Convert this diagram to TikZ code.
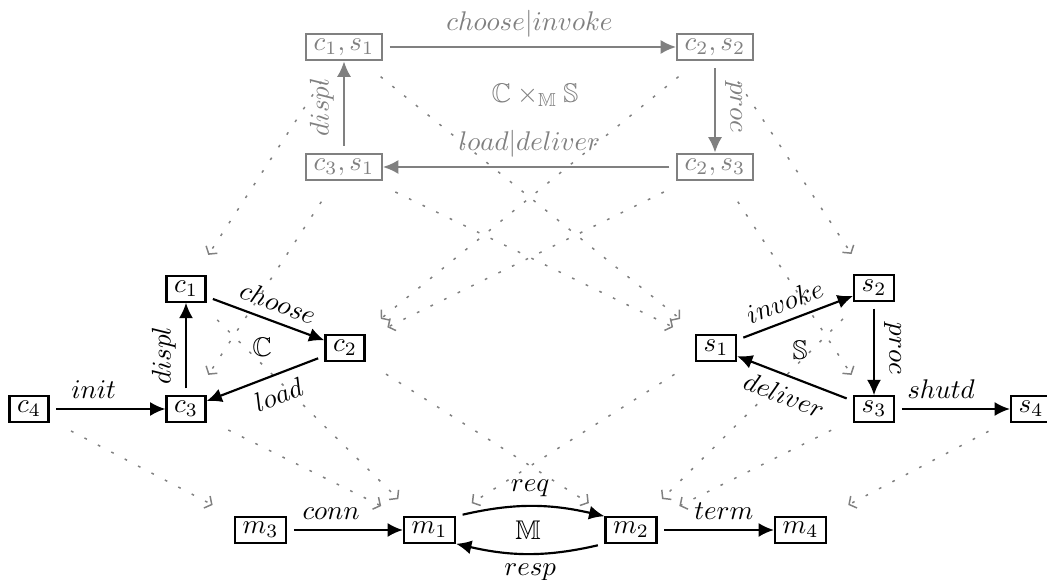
\documentclass[tikz,border=0pt]{standalone}
\usepackage{amssymb}
\usetikzlibrary{arrows.meta}
\begin{document}
\begin{tikzpicture}[x=0.3704pt,y=-0.3704pt,
  st/.style={draw,thick,inner xsep=2.8pt,inner ysep=1.8pt},
  gst/.style={st,draw=gray,text=gray},
  tr/.style={thick,-{Latex[length=5.7pt,width=5.2pt]},shorten <=2.5pt},
  gtr/.style={tr,gray},
  proj/.style={gray,line width=0.55pt,dash pattern=on 1pt off 4.6pt,
    -{Straight Barb[length=2pt,width=5pt]},shorten <=9pt,shorten >=9pt}
]
\useasboundingbox (0,0) rectangle (1047,580);
% top product
\node[gst] (cs11) at (344,47) {$c_1,s_1$};
\node[gst] (cs22) at (715,47) {$c_2,s_2$};
\node[gst] (cs31) at (344,167) {$c_3,s_1$};
\node[gst] (cs23) at (715,167) {$c_2,s_3$};
\node[text=gray] (prod) at (535,95) {$\mathbb{C}\times_{\mathbb{M}}\mathbb{S}$};
% client
\node[st] (c1) at (186,289) {$c_1$};
\node[st] (c2) at (345,348) {$c_2$};
\node[st] (c3) at (186,409) {$c_3$};
\node[st] (c4) at (29,409) {$c_4$};
\node (C) at (262,347) {$\mathbb{C}$};
% server
\node[st] (s1) at (716,348) {$s_1$};
\node[st] (s2) at (874,288) {$s_2$};
\node[st] (s3) at (874,409) {$s_3$};
\node[st] (s4) at (1031,409) {$s_4$};
\node (S) at (800,350) {$\mathbb{S}$};
% middleware
\node[st] (m3) at (260.5,530) {$m_3$};
\node[st] (m1) at (429.5,530) {$m_1$};
\node[st] (m2) at (631,530) {$m_2$};
\node[st] (m4) at (800.5,530) {$m_4$};
\node (M) at (528,530) {$\mathbb{M}$};
% projections
\draw[proj] (cs11) -- (c1);
\draw[proj] (cs11) -- (s1);
\draw[proj] (cs22) -- (c2);
\draw[proj] (cs22) -- (s2);
\draw[proj] (cs31) -- (c3);
\draw[proj] (cs31) -- (s1);
\draw[proj] (cs23) -- (c2);
\draw[proj] (cs23) -- (s3);
\draw[proj] (c4) -- (m3);
\draw[proj] (c1) -- (m1);
\draw[proj] (c3) -- (m1);
\draw[proj] (c2) -- (m2);
\draw[proj] (s1) -- (m1);
\draw[proj] (s2) -- (m2);
\draw[proj] (s3) -- (m2);
\draw[proj] (s4) -- (m4);
% top transitions
\draw[gtr] (cs11) -- node[above]{$choose|invoke$} (cs22);
\draw[gtr] (cs22) -- node[above,sloped]{$proc$} (cs23);
\draw[gtr] (cs23) -- node[above]{$load|deliver$} (cs31);
\draw[gtr] (cs31) -- node[above,sloped]{$displ$} (cs11);
% client transitions
\draw[tr] (c1) -- node[above,sloped,pos=0.55]{$choose$} (c2);
\draw[tr] (c2) -- node[below,sloped,pos=0.45]{$load$} (c3);
\draw[tr] (c3) -- node[above,sloped,pos=0.43]{$displ$} (c1);
\draw[tr] (c4) -- node[above,pos=0.38]{$init$} (c3);
% server transitions
\draw[tr] (s1) -- node[above,sloped,pos=0.47]{$invoke$} (s2);
\draw[tr] (s2) -- node[above,sloped]{$proc$} (s3);
\draw[tr] (s3) -- node[below,sloped,pos=0.53]{$deliver$} (s1);
\draw[tr] (s3) -- node[above,pos=0.4]{$shutd$} (s4);
% middleware transitions
\draw[tr] (m3) -- node[above,pos=0.38]{$conn$} (m1);
\draw[tr] (m1.north east) to[bend left=13] node[above]{$req$} (m2.north west);
\draw[tr] (m2.south west) to[bend left=13] node[below]{$resp$} (m1.south east);
\draw[tr] (m2) -- node[above,pos=0.57]{$term$} (m4);
\end{tikzpicture}
\end{document}
